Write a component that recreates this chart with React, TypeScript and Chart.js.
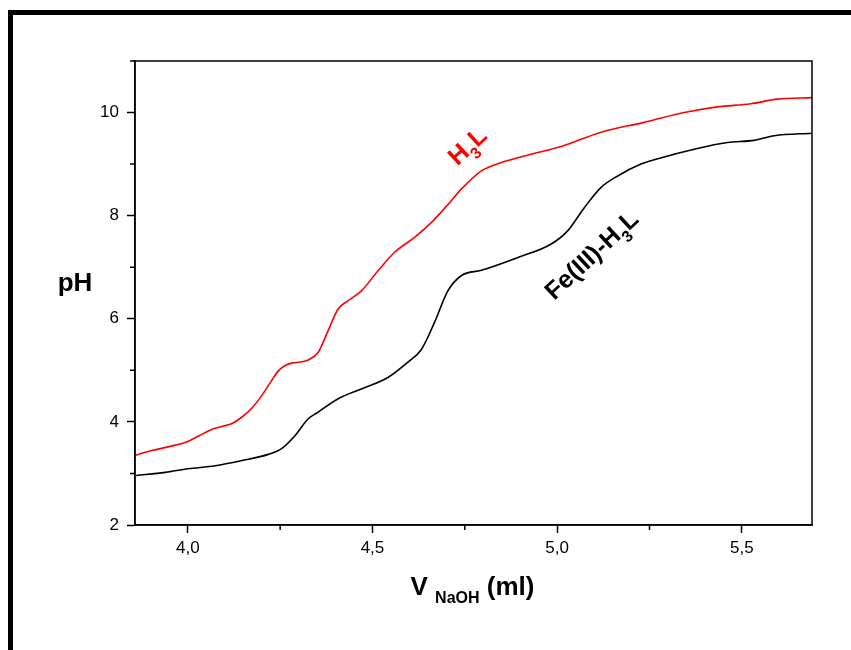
import { useEffect, useRef } from 'react';
import { Chart, registerables } from 'chart.js';

Chart.register(...registerables);

// H3L titration curve (red)
const h3lVolume = [3.857, 3.9, 3.95, 4.0, 4.03, 4.06, 4.092, 4.12, 4.146, 4.175, 4.2, 4.225, 4.245, 4.265, 4.281, 4.305, 4.326, 4.353, 4.38, 4.407, 4.434, 4.47, 4.515, 4.56, 4.614, 4.664, 4.7, 4.741, 4.795, 4.849, 4.939, 5.011, 5.119, 5.236, 5.344, 5.434, 5.524, 5.596, 5.69];
const h3lPH = [3.35, 3.44, 3.52, 3.62, 3.73, 3.84, 3.91, 3.97, 4.09, 4.28, 4.51, 4.78, 4.99, 5.1, 5.14, 5.16, 5.2, 5.35, 5.77, 6.19, 6.35, 6.54, 6.93, 7.29, 7.58, 7.9, 8.18, 8.52, 8.87, 9.03, 9.21, 9.34, 9.62, 9.81, 10.0, 10.11, 10.17, 10.26, 10.29];

// Fe(III)-H3L titration curve (black)
const feVolume = [3.86, 3.939, 4.0, 4.074, 4.146, 4.218, 4.254, 4.29, 4.326, 4.353, 4.407, 4.47, 4.542, 4.596, 4.632, 4.668, 4.704, 4.741, 4.795, 4.894, 4.984, 5.029, 5.074, 5.119, 5.164, 5.227, 5.28, 5.371, 5.461, 5.533, 5.588, 5.69];
const fePH = [2.96, 3.02, 3.09, 3.15, 3.25, 3.37, 3.48, 3.73, 4.06, 4.19, 4.45, 4.64, 4.86, 5.16, 5.4, 5.93, 6.54, 6.84, 6.94, 7.19, 7.45, 7.71, 8.16, 8.55, 8.77, 9.0, 9.12, 9.29, 9.42, 9.46, 9.55, 9.6];

const xMajorTicks = [4.0, 4.5, 5.0, 5.5];
const xTickLabels = ['4,0', '4,5', '5,0', '5,5'];
const xMinorTicks = [4.25, 4.75, 5.25];
const yMajorTicks = [2, 4, 6, 8, 10];
const yTickLabels = ['2', '4', '6', '8', '10'];
const yMinorTicks = [3, 5, 7, 9, 11];

const X_MIN = 3.857;
const X_MAX = 5.69;
const Y_MIN = 2;
const Y_MAX = 11;

const FONT = '"Liberation Sans", Arial, sans-serif';

function drawSubText(
  ctx: CanvasRenderingContext2D,
  parts: { t: string; sub?: boolean }[],
  size: number,
  subSize: number,
  subDrop: number,
) {
  let total = 0;
  const widths = parts.map((p) => {
    ctx.font = `bold ${p.sub ? subSize : size}px ${FONT}`;
    const w = ctx.measureText(p.t).width;
    total += w;
    return w;
  });
  let x = -total / 2;
  parts.forEach((p, i) => {
    ctx.font = `bold ${p.sub ? subSize : size}px ${FONT}`;
    ctx.fillText(p.t, x, p.sub ? subDrop : 0);
    x += widths[i];
  });
}

const decorPlugin = {
  id: 'decor',
  beforeDraw(chart: any) {
    const ctx = chart.ctx as CanvasRenderingContext2D;
    ctx.save();
    ctx.fillStyle = '#ffffff';
    ctx.fillRect(0, 0, chart.width, chart.height);
    ctx.restore();
  },
  afterDraw(chart: any) {
    const ctx = chart.ctx as CanvasRenderingContext2D;
    const { left, right, top, bottom } = chart.chartArea;
    const xs = chart.scales.x;
    const ys = chart.scales.y;
    ctx.save();
    // outer frame
    ctx.fillStyle = '#000';
    ctx.fillRect(8, 10, chart.width, 5);
    ctx.fillRect(8, 10, 5, chart.height);
    // plot box
    ctx.strokeStyle = '#000';
    ctx.lineWidth = 1.5;
    ctx.strokeRect(left, top, right - left, bottom - top);
    // minor ticks
    ctx.beginPath();
    xMinorTicks.forEach((v) => {
      const px = xs.getPixelForValue(v);
      ctx.moveTo(px, bottom);
      ctx.lineTo(px, bottom + 5);
    });
    yMinorTicks.forEach((v) => {
      const py = ys.getPixelForValue(v);
      ctx.moveTo(left - 5, py);
      ctx.lineTo(left, py);
    });
    ctx.stroke();

    // axis titles
    ctx.fillStyle = '#000';
    ctx.textBaseline = 'alphabetic';
    ctx.textAlign = 'left';
    ctx.font = `bold 26px ${FONT}`;
    const pw = ctx.measureText('pH').width;
    ctx.fillText('pH', 75 - pw / 2, 291);

    ctx.save();
    ctx.translate((left + right) / 2 - 1, 595);
    drawSubText(ctx, [{ t: 'V ' }, { t: 'NaOH', sub: true }, { t: ' (ml)' }], 26, 16, 8);
    ctx.restore();

    // curve labels
    ctx.save();
    ctx.fillStyle = '#ff0000';
    ctx.translate(473, 152);
    ctx.rotate((-43 * Math.PI) / 180);
    drawSubText(ctx, [{ t: 'H' }, { t: '3', sub: true }, { t: 'L' }], 25, 16, 8);
    ctx.restore();

    ctx.save();
    ctx.fillStyle = '#000';
    ctx.translate(597, 261);
    ctx.rotate((-43 * Math.PI) / 180);
    drawSubText(ctx, [{ t: 'Fe(III)-H' }, { t: '3', sub: true }, { t: 'L' }], 25, 16, 8);
    ctx.restore();

    ctx.restore();
  },
};

export default function App() {
  const canvasRef = useRef<HTMLCanvasElement | null>(null);

  useEffect(() => {
    const canvas = canvasRef.current;
    if (!canvas) return;
    const chart = new Chart(canvas, {
      type: 'scatter',
      data: {
        datasets: [
          {
            label: 'H3L',
            data: h3lVolume.map((v, i) => ({ x: v, y: h3lPH[i] })),
            showLine: true,
            borderColor: '#ff0000',
            borderWidth: 1.6,
            pointRadius: 0,
            cubicInterpolationMode: 'monotone',
          },
          {
            label: 'Fe(III)-H3L',
            data: feVolume.map((v, i) => ({ x: v, y: fePH[i] })),
            showLine: true,
            borderColor: '#000000',
            borderWidth: 1.6,
            pointRadius: 0,
            cubicInterpolationMode: 'monotone',
          },
        ],
      },
      options: {
        animation: false,
        responsive: false,
        devicePixelRatio: 1,
        layout: { padding: { left: 0, top: 61, right: 39, bottom: 0 } },
        plugins: {
          legend: { display: false },
          tooltip: { enabled: false },
          title: { display: false },
        },
        scales: {
          x: {
            type: 'linear',
            min: X_MIN,
            max: X_MAX,
            afterBuildTicks: (s: any) => {
              s.ticks = [...xMajorTicks, ...xMinorTicks].sort((a, b) => a - b).map((v) => ({ value: v }));
            },
            afterFit: (s: any) => {
              s.height = 125;
            },
            ticks: {
              autoSkip: false,
              maxRotation: 0,
              padding: 5,
              color: '#000',
              font: { family: FONT, size: 17 },
              callback: (value: any) => {
                const i = xMajorTicks.indexOf(Number(value));
                return i >= 0 ? xTickLabels[i] : '';
              },
            },
            grid: {
              drawOnChartArea: false,
              tickLength: 8,
              tickWidth: 1.5,
              tickColor: (c: any) => (xMajorTicks.includes(c.tick?.value) ? '#000' : 'rgba(0,0,0,0)'),
            },
            border: { color: '#000', width: 1.5 },
          },
          y: {
            type: 'linear',
            min: Y_MIN,
            max: Y_MAX,
            afterBuildTicks: (s: any) => {
              s.ticks = [...yMajorTicks, ...yMinorTicks].sort((a, b) => a - b).map((v) => ({ value: v }));
            },
            afterFit: (s: any) => {
              s.width = 135;
            },
            ticks: {
              autoSkip: false,
              padding: 8,
              color: '#000',
              font: { family: FONT, size: 17 },
              callback: (value: any) => {
                const i = yMajorTicks.indexOf(Number(value));
                return i >= 0 ? yTickLabels[i] : '';
              },
            },
            grid: {
              drawOnChartArea: false,
              tickLength: 8,
              tickWidth: 1.5,
              tickColor: (c: any) => (yMajorTicks.includes(c.tick?.value) ? '#000' : 'rgba(0,0,0,0)'),
            },
            border: { color: '#000', width: 1.5 },
          },
        },
      },
      plugins: [decorPlugin],
    });
    return () => chart.destroy();
  }, []);

  return (
    <div style={{ position: 'fixed', left: 0, top: 0, width: 851, height: 650, background: '#fff' }}>
      <canvas ref={canvasRef} width={851} height={650} style={{ display: 'block' }} />
    </div>
  );
}
